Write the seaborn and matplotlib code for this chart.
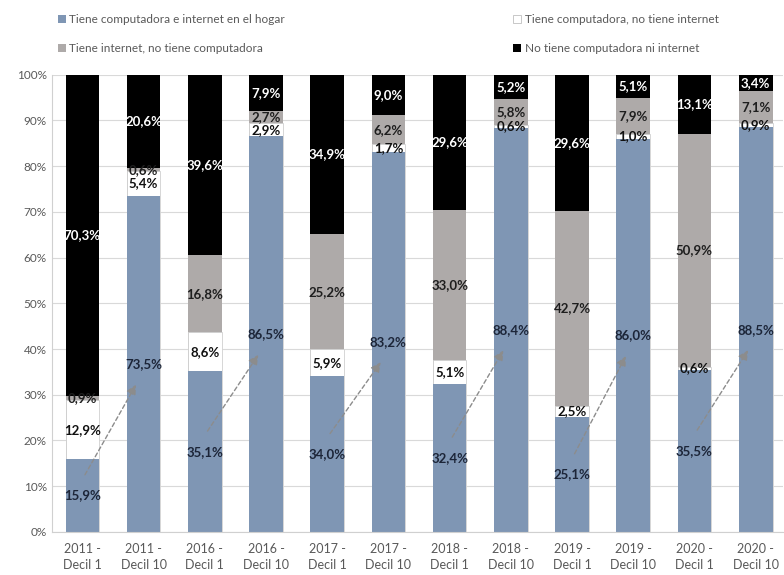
import numpy as np
import pandas as pd
import matplotlib
matplotlib.use("Agg")
import matplotlib.pyplot as plt
import seaborn as sns
from matplotlib.patches import Patch

# Data (percent of households)
categories = ["2011 -\nDecil 1", "2011 -\nDecil 10", "2016 -\nDecil 1", "2016 -\nDecil 10",
              "2017 -\nDecil 1", "2017 -\nDecil 10", "2018 -\nDecil 1", "2018 -\nDecil 10",
              "2019 -\nDecil 1", "2019 -\nDecil 10", "2020 -\nDecil 1", "2020 -\nDecil 10"]
con_ambos = [15.9, 73.5, 35.1, 86.5, 34.0, 83.2, 32.4, 88.4, 25.1, 86.0, 35.5, 88.5]
solo_compu = [12.9, 5.4, 8.6, 2.9, 5.9, 1.7, 5.1, 0.6, 2.5, 1.0, 0.6, 0.9]
solo_internet = [0.9, 0.6, 16.8, 2.7, 25.2, 6.2, 33.0, 5.8, 42.7, 7.9, 50.9, 7.1]
ninguno = [70.3, 20.6, 39.6, 7.9, 34.9, 9.0, 29.6, 5.2, 29.6, 5.1, 13.1, 3.4]

series_names = ["Tiene computadora e internet en el hogar",
                "Tiene computadora, no tiene internet",
                "Tiene internet, no tiene computadora",
                "No tiene computadora ni internet"]
colors = ["#7f96b4", "#ffffff", "#aeaaa9", "#000000"]
label_colors = ["#1c2538", "#111111", "#1e1e1e", "#ffffff"]

df = pd.DataFrame({"cat": categories, "a": con_ambos, "b": solo_compu,
                   "c": solo_internet, "d": ninguno})
parts = ["a", "b", "c", "d"]
cum = df[parts].cumsum(axis=1)

plt.rcParams['font.family'] = ['Lato', 'DejaVu Sans']
fig = plt.figure(figsize=(7.84, 5.75), dpi=100)
ax = fig.add_axes([0.066, 0.075, 0.933, 0.795])

# stacked bars: draw cumulative totals from the top segment down
for k in range(3, -1, -1):
    sns.barplot(x=df["cat"], y=cum[parts[k]], color=colors[k], width=0.55,
                edgecolor="#d0d0d0" if k == 1 else colors[k],
                linewidth=0.6 if k == 1 else 0, saturation=1, ax=ax, zorder=2)

# value labels at segment centres
for i in range(len(categories)):
    bottom = 0
    for k, p in enumerate(parts):
        v = df[p][i]
        ax.text(i, bottom + v / 2, f"{v:.1f}%".replace(".", ","), ha="center", va="center",
                fontsize=9.5, fontweight="bold", color=label_colors[k], zorder=5)
        bottom += v

# dashed arrows from Decil 1 to Decil 10 of each year
for i in range(0, len(categories), 2):
    ax.annotate("", xy=(i + 0.9, con_ambos[i + 1] / 2 - 4), xytext=(i + 0.02, con_ambos[i] / 2 + 4),
                arrowprops=dict(arrowstyle="-|>,head_length=0.6,head_width=0.3", color="#8c8c8c",
                                linestyle=(0, (3, 2)), linewidth=1.0), zorder=6)

ax.set_ylim(0, 100)
ax.set_xlim(-0.5, 11.45)
ax.set_yticks(np.arange(0, 101, 10))
ax.set_yticklabels([f"{t}%" for t in range(0, 101, 10)])
ax.yaxis.grid(True, color="#d9d9d9", linewidth=0.8, zorder=0)
ax.set_axisbelow(True)
ax.set_xlabel("")
ax.set_ylabel("")
ax.tick_params(axis="both", length=0, colors="#595959", labelsize=8.5)
ax.tick_params(axis="x", labelsize=9, pad=8)
for lbl in ax.get_xticklabels():
    lbl.set_linespacing(1.4)
for s in ["top", "right"]:
    ax.spines[s].set_visible(False)
for s in ["left", "bottom"]:
    ax.spines[s].set_color("#d0d0d0")

handles = [Patch(facecolor=colors[0]), Patch(facecolor=colors[2]),
           Patch(facecolor=colors[1], edgecolor="#bfbfbf", linewidth=0.6), Patch(facecolor=colors[3])]
labels = [series_names[0], series_names[2], series_names[1], series_names[3]]
fig.legend(handles, labels, ncol=2, loc="upper left", bbox_to_anchor=(0.06, 0.8, 0.87, 0.194),
           mode="expand", frameon=False, fontsize=8.5, labelcolor="#595959",
           handlelength=0.7, handleheight=0.7, handletextpad=0.3, labelspacing=1.5)

fig.savefig("out.png", dpi=100)
